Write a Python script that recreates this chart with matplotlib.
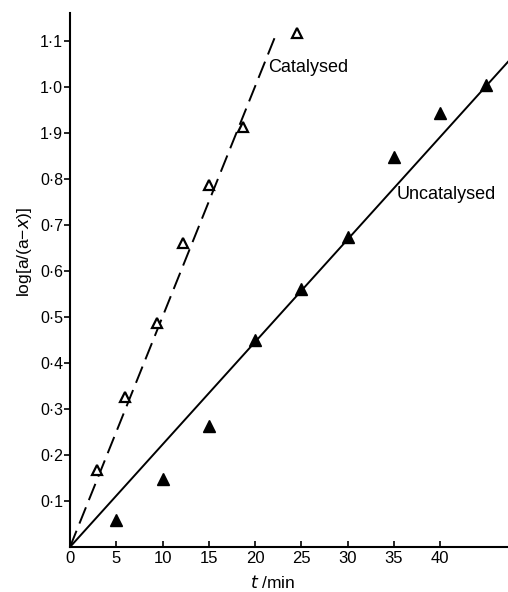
#!/usr/bin/env python
# -*- coding: utf-8 -*-

# log[a/(a-x)] against time, catalysed and uncatalysed runs
#-------------------------------------------------------------

import matplotlib
matplotlib.use('Agg')
import matplotlib.pyplot as plt
import numpy

# catalysed run (open triangles)
t_cat = [2.9, 5.9, 9.4, 12.2, 15.0, 18.7, 24.5]
y_cat = [0.167, 0.326, 0.487, 0.66, 0.787, 0.913, 1.117]

# uncatalysed run (filled triangles)
t_unc = [5, 10, 15, 20, 25, 30, 35, 40, 45]
y_unc = [0.059, 0.148, 0.263, 0.45, 0.561, 0.674, 0.848, 0.943, 1.004]

# fitted straight lines through the origin
pente_cat = 0.050
pente_unc = 0.02226
tfin_cat = 22.4
tfin_unc = 47.35

xticks = [0, 5, 10, 15, 20, 25, 30, 35, 40]
xticklabels = ['0', '5', '10', '15', '20', '25', '30', '35', '40']
yticks = [0.1, 0.2, 0.3, 0.4, 0.5, 0.6, 0.7, 0.8, 0.9, 1.0, 1.1]
yticklabels = ['0\u00b71', '0\u00b72', '0\u00b73', '0\u00b74', '0\u00b75', '0\u00b76',
               '0\u00b77', '0\u00b78', '1\u00b79', '1\u00b70', '1\u00b71']

plt.rcParams['font.family'] = ['Liberation Sans', 'DejaVu Sans']

fig = plt.figure(figsize=(5.08, 5.92), dpi=100)
ax = fig.add_axes([70/508., 45/592., 438/508., 534/592.])

# droites
tt = numpy.array([0, tfin_cat])
ax.plot(tt, pente_cat*tt, color='k', lw=1.4, dashes=(9, 4))
tt = numpy.array([0, tfin_unc])
ax.plot(tt, pente_unc*tt, color='k', lw=1.4)

# points
ax.plot(t_cat, y_cat, linestyle='none', marker='^', markersize=7,
        markerfacecolor='white', markeredgecolor='k', markeredgewidth=1.6, clip_on=False)
ax.plot(t_unc, y_unc, linestyle='none', marker='^', markersize=9,
        color='k', clip_on=False)

ax.text(21.4, 1.041, 'Catalysed', fontsize=13, va='center', ha='left')
ax.text(35.35, 0.765, 'Uncatalysed', fontsize=13, va='center', ha='left')

ax.set_xlim(0, 47.35)
ax.set_ylim(0, 1.16)
ax.spines['top'].set_visible(False)
ax.spines['right'].set_visible(False)
ax.spines['left'].set_linewidth(1.5)
ax.spines['bottom'].set_linewidth(1.5)

ax.set_xticks(xticks)
ax.set_xticklabels(xticklabels)
ax.set_yticks(yticks)
ax.set_yticklabels(yticklabels)
ax.tick_params(axis='x', direction='in', length=4, width=1.2, labelsize=12, pad=3)
ax.tick_params(axis='y', direction='out', length=4, width=1.2, labelsize=11.5, pad=1)

ax.set_xlabel('$t$ /min', fontsize=12.5, va='center')
ax.xaxis.set_label_coords((273-70)/438., -(582-547)/534.)
ax.set_ylabel('log[a/(a\u2212$x$)]', fontsize=12.5, va='center')
ax.yaxis.set_label_coords(-(70-24)/438., (547-252)/534.)

plt.savefig('out.png', dpi=100)
plt.close('all')
